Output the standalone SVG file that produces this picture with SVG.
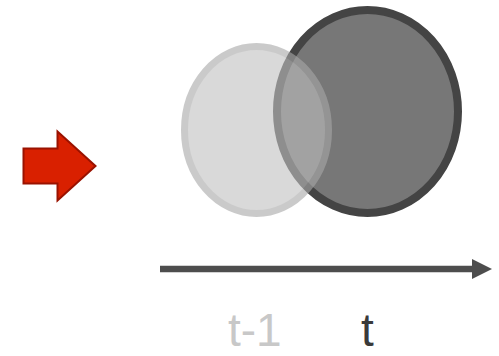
<svg xmlns="http://www.w3.org/2000/svg" width="499" height="356" viewBox="0 0 499 356">
<style>
text{font-family:'Liberation Sans',Arial,Helvetica,sans-serif;font-size:46px}
</style>
<defs>
<marker id="ah" markerUnits="userSpaceOnUse" markerWidth="20" markerHeight="20" refX="0" refY="10" orient="auto" viewBox="0 0 20 20">
<path d="M0,0 L20,10 L0,20 Z" fill="#4d4d4d"/>
</marker>
</defs>
<rect width="499" height="356" fill="#ffffff"/>
<g id="red-arrow">
<path d="M23.5,148.5 L57.5,148.5 L57.5,131.5 L95.5,166 L57.5,200.5 L57.5,183.5 L23.5,183.5 Z" fill="#d92000" stroke="#9a1200" stroke-width="2"/>
</g>
<g id="circle-t">
<ellipse cx="367.5" cy="111.5" rx="90.5" ry="101.5" fill="#777777" stroke="#444444" stroke-width="8"/>
</g>
<g id="circle-t-1">
<ellipse cx="256.5" cy="130" rx="72" ry="83.5" fill="#c0c0c0" stroke="#a8a8a8" stroke-width="7" opacity="0.6"/>
</g>
<g id="connectors">
<line x1="160" y1="269" x2="472" y2="269" stroke="#4d4d4d" stroke-width="6.5" marker-end="url(#ah)"/>
</g>
<g id="label-t-1">
<text x="228" y="346" fill="#c8c8c8">t-1</text>
</g>
<g id="label-t">
<text x="361" y="346" fill="#3a3a3a">t</text>
</g>
</svg>
